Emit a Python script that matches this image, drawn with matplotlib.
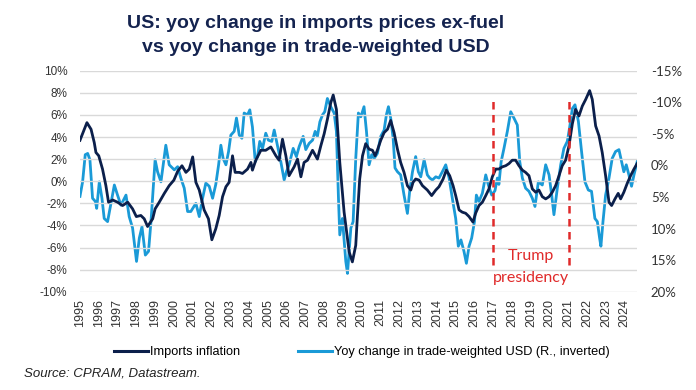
import matplotlib
matplotlib.use("Agg")
import matplotlib.pyplot as plt
from matplotlib.lines import Line2D

# Imports prices ex-fuel, yoy % (left axis)
imp_t = [1995.0, 1995.14, 1995.37, 1995.59, 1995.76, 1995.85, 1996.0, 1996.2, 1996.38, 1996.52,
         1996.74, 1997.0, 1997.27, 1997.54, 1997.8, 1998.0, 1998.24, 1998.42, 1998.6, 1998.87,
         1999.0, 1999.22, 1999.49, 1999.75, 2000.0, 2000.2, 2000.43, 2000.64, 2000.82, 2001.0,
         2001.17, 2001.35, 2001.61, 2001.84, 2002.02, 2002.23, 2002.41, 2002.59, 2002.77, 2002.94,
         2003.12, 2003.26, 2003.48, 2003.65, 2003.92, 2004.1, 2004.18, 2004.36, 2004.63, 2004.89,
         2005.16, 2005.43, 2005.6, 2005.78, 2005.96, 2006.13, 2006.4, 2006.58, 2006.76, 2006.93,
         2007.11, 2007.38, 2007.64, 2007.82, 2008.0, 2008.17, 2008.35, 2008.48, 2008.65, 2008.83,
         2009.06, 2009.33, 2009.5, 2009.68, 2009.77, 2009.89, 2010.04, 2010.21, 2010.39, 2010.57,
         2010.71, 2010.83, 2011.01, 2011.19, 2011.37, 2011.54, 2011.72, 2011.9, 2012.07, 2012.25,
         2012.43, 2012.61, 2012.73, 2012.87, 2013.05, 2013.23, 2013.49, 2013.72, 2013.94, 2014.11,
         2014.33, 2014.5, 2014.68, 2014.86, 2015.0, 2015.18, 2015.35, 2015.53, 2015.71, 2015.92,
         2016.06, 2016.24, 2016.42, 2016.6, 2016.77, 2016.95, 2017.13, 2017.3, 2017.48, 2017.66,
         2017.84, 2018.01, 2018.19, 2018.37, 2018.55, 2018.72, 2018.9, 2019.08, 2019.26, 2019.43,
         2019.61, 2019.79, 2019.97, 2020.14, 2020.32, 2020.5, 2020.67, 2020.85, 2021.03, 2021.21,
         2021.38, 2021.56, 2021.74, 2021.92, 2022.13, 2022.27, 2022.45, 2022.63, 2022.8, 2022.98,
         2023.16, 2023.3, 2023.48, 2023.65, 2023.78, 2023.95, 2024.13, 2024.31, 2024.49, 2024.66]
imp_val = [3.7, 4.3, 5.3, 4.7, 3.5, 2.6, 2.3, 1.1, -0.4, -1.9,
           -1.7, -1.9, -2.2, -1.9, -2.5, -3.2, -3.1, -3.4, -4.1, -3.4,
           -2.5, -1.9, -1.1, -0.4, 0.1, 0.9, 1.4, 0.8, 1.1, 2.2,
           -0.1, -0.8, -2.6, -3.4, -5.3, -4.3, -3.1, -1.4, -0.5, -0.1,
           2.3, 0.8, 0.8, 0.7, 1.1, 1.7, 1.0, 1.9, 2.8, 2.8,
           3.1, 2.3, 1.9, 3.8, 2.3, 0.5, 1.3, 2.0, 0.4, 1.7,
           1.9, 2.8, 2.0, 3.2, 4.3, 5.6, 7.1, 7.8, 6.5, 1.7,
           -2.8, -6.4, -7.3, -5.8, -3.1, 0.2, 2.3, 3.4, 2.9, 2.8,
           2.3, 2.8, 3.7, 4.4, 4.7, 5.5, 4.4, 2.9, 1.7, 0.8,
           -0.4, -0.8, -0.1, 0.2, 0.1, -0.4, -0.8, -1.3, -0.8, -0.5,
           0.2, 1.0, 0.5, -0.4, -1.3, -2.6, -2.8, -2.9, -3.2, -3.7,
           -2.9, -2.2, -1.9, -1.3, -0.7, 0.4, 1.1, 1.1, 1.3, 1.4,
           1.6, 1.9, 1.9, 1.4, 1.0, 0.8, 0.5, -0.7, -1.0, -0.8,
           -1.4, -1.6, -1.4, -1.0, -0.4, 0.5, 1.4, 1.9, 3.2, 5.2,
           6.5, 5.9, 6.8, 7.4, 8.2, 7.4, 5.0, 4.1, 2.6, 0.5,
           -1.9, -2.2, -1.6, -1.1, -1.6, -1.0, -0.2, 0.5, 1.1, 1.6]

# Trade-weighted USD, yoy % (right axis, inverted)
usd_t = [1995.0, 1995.14, 1995.28, 1995.41, 1995.53, 1995.67, 1995.82, 1995.89, 1996.03, 1996.17,
         1996.29, 1996.47, 1996.65, 1996.83, 1997.0, 1997.18, 1997.45, 1997.62, 1997.8, 1998.01,
         1998.16, 1998.3, 1998.48, 1998.65, 1998.78, 1999.0, 1999.13, 1999.31, 1999.57, 1999.75,
         2000.02, 2000.2, 2000.37, 2000.55, 2000.73, 2000.9, 2001.17, 2001.35, 2001.49, 2001.7,
         2001.88, 2002.06, 2002.23, 2002.38, 2002.5, 2002.62, 2002.77, 2002.91, 2003.03, 2003.21,
         2003.33, 2003.48, 2003.62, 2003.74, 2003.92, 2004.04, 2004.18, 2004.33, 2004.45, 2004.57,
         2004.72, 2004.89, 2005.03, 2005.21, 2005.34, 2005.51, 2005.69, 2005.87, 2005.99, 2006.13,
         2006.35, 2006.52, 2006.67, 2006.88, 2007.02, 2007.2, 2007.38, 2007.52, 2007.64, 2007.77,
         2007.91, 2008.03, 2008.17, 2008.35, 2008.53, 2008.65, 2008.76, 2008.83, 2008.97, 2009.15,
         2009.24, 2009.33, 2009.42, 2009.54, 2009.68, 2009.82, 2009.95, 2010.12, 2010.25, 2010.39,
         2010.53, 2010.66, 2010.83, 2011.01, 2011.19, 2011.31, 2011.42, 2011.54, 2011.67, 2011.77,
         2011.9, 2012.07, 2012.25, 2012.43, 2012.55, 2012.7, 2012.87, 2013.01, 2013.14, 2013.32,
         2013.49, 2013.62, 2013.76, 2013.94, 2014.11, 2014.29, 2014.47, 2014.65, 2014.82, 2015.0,
         2015.14, 2015.28, 2015.44, 2015.57, 2015.71, 2015.85, 2016.0, 2016.1, 2016.24, 2016.42,
         2016.6, 2016.74, 2016.92, 2017.09, 2017.22, 2017.3, 2017.42, 2017.57, 2017.75, 2017.93,
         2018.1, 2018.28, 2018.41, 2018.55, 2018.72, 2018.9, 2019.08, 2019.22, 2019.4, 2019.61,
         2019.79, 2019.97, 2020.11, 2020.23, 2020.41, 2020.59, 2020.76, 2020.94, 2021.06, 2021.21,
         2021.35, 2021.53, 2021.7, 2021.88, 2022.06, 2022.23, 2022.41, 2022.54, 2022.66, 2022.73,
         2022.84, 2022.98, 2023.16, 2023.33, 2023.51, 2023.69, 2023.83, 2023.95, 2024.08, 2024.22,
         2024.36, 2024.49, 2024.66]
usd_val = [4.9, 2.6, -1.7, -1.9, -0.9, 5.2, 5.7, 6.8, 2.6, 5.2,
           8.4, 8.9, 6.0, 3.1, 4.7, 6.3, 4.7, 8.1, 9.9, 15.2,
           11.5, 9.7, 14.2, 13.6, 8.9, -0.9, 1.0, 2.6, -3.2, -0.1,
           0.7, 0.2, 2.0, 3.6, 7.3, 7.3, 6.0, 8.1, 5.7, 2.8,
           3.3, 5.2, 3.0, -0.1, -3.2, -1.1, -0.1, -2.2, -4.8, -5.4,
           -7.5, -4.8, -4.3, -8.3, -8.0, -8.8, -6.1, -0.6, -1.4, -3.8,
           -2.7, -5.1, -4.0, -3.8, -5.6, -3.2, -0.6, 2.3, 1.0, -0.1,
           -2.7, -1.4, -3.0, -4.6, -2.5, -3.5, -4.0, -5.4, -4.6, -6.9,
           -8.0, -8.5, -10.6, -9.3, -8.3, -5.4, 5.2, 11.0, 8.4, 15.2,
           17.1, 13.6, 9.9, 8.9, -1.1, -8.3, -7.7, -9.3, -5.4, -0.1,
           -1.7, -1.1, -1.9, -4.6, -5.6, -8.0, -9.3, -7.5, -4.3, 0.4,
           1.0, 1.5, 4.7, 7.6, 4.1, 1.0, -1.4, 1.0, 1.8, -0.9,
           1.5, 2.0, 2.3, 1.8, 2.0, 1.0, -0.1, 2.0, 5.2, 8.4,
           12.8, 11.8, 13.6, 15.5, 12.8, 11.5, 8.9, 4.7, 5.7, 4.4,
           1.5, 3.1, 4.7, 4.0, 2.0, 3.0, -0.6, -2.7, -5.4, -8.5,
           -7.5, -6.4, -0.6, 2.0, 3.6, 4.1, 5.2, 6.5, 2.6, 3.1,
           -0.1, 1.5, 4.7, 7.8, 3.6, -0.1, -2.7, -3.8, -5.9, -9.0,
           -9.6, -7.0, -2.2, 2.6, 3.9, 4.1, 8.4, 8.9, 11.5, 12.8,
           8.9, 4.7, 2.0, -1.1, -2.2, -2.5, -0.6, 1.0, -0.1, 1.5,
           3.3, 1.5, -0.6]

years = list(range(1995, 2025))
left_ticks = [-10, -8, -6, -4, -2, 0, 2, 4, 6, 8, 10]
right_ticks = [-15, -10, -5, 0, 5, 10, 15, 20]
trump_start = 2017.0
trump_end = 2021.05

navy = "#0b1f4b"
sky = "#1a9ad7"
red = "#e02a2a"
txt = "#333333"

fig = plt.figure(figsize=(6.96, 3.9), dpi=100)
ax = fig.add_axes([0.1149, 0.252, 0.8003, 0.5667])
ax2 = ax.twinx()

ax.plot(imp_t, imp_val, color=navy, lw=2.0, zorder=3)
ax2.plot(usd_t, usd_val, color=sky, lw=2.0, zorder=2)
ax.set_zorder(ax2.get_zorder() + 1)
ax.patch.set_visible(False)

ax.set_xlim(1995, 2024.65)
ax.set_ylim(-10, 10)
ax2.set_ylim(20, -15)

ax.set_yticks(left_ticks)
ax.set_yticklabels([f"{v}%" for v in left_ticks], fontsize=8.5, color=txt, family="Liberation Sans")
ax2.set_yticks(right_ticks)
ax2.set_yticklabels([f"{v}%" for v in right_ticks], fontsize=9.5, color=txt, family="Lato")
ax.set_xticks(years)
ax.set_xticklabels([str(y) for y in years], rotation=90, fontsize=9, color=txt,
                   family="Liberation Sans")

ax.tick_params(axis="y", length=0, pad=9)
ax2.tick_params(axis="y", length=0, pad=10)
ax.tick_params(axis="x", length=0, pad=5)
ax.grid(axis="y", color="#d9d9d9", lw=1)
for a in (ax, ax2):
    for s in a.spines.values():
        s.set_visible(False)

# Trump presidency markers
for xv in (trump_start, trump_end):
    ax.axvline(xv, ymin=0.12, ymax=0.88, color=red, lw=1.8, ls=(0, (3, 2.2)), zorder=4)
mid = (trump_start + trump_end) / 2
ax.text(mid, -6.8, "Trump", ha="center", va="center", color=red, fontsize=11.5, family="Lato")
ax.text(mid, -8.8, "presidency", ha="center", va="center", color=red, fontsize=11.5, family="Lato")

fig.text(0.454, 0.94, "US: yoy change in imports prices ex-fuel", ha="center", va="center",
         fontsize=14, fontweight="bold", color="#14234f", family="Liberation Sans")
fig.text(0.454, 0.877, "vs yoy change in trade-weighted USD", ha="center", va="center",
         fontsize=14, fontweight="bold", color="#14234f", family="Liberation Sans")

handles = [Line2D([], [], color=navy, lw=2.2), Line2D([], [], color=sky, lw=2.2)]
labels = ["Imports inflation", "Yoy change in trade-weighted USD (R., inverted)"]
fig.legend(handles, labels, loc="center", bbox_to_anchor=(0.52, 0.097), ncol=2, frameon=False,
           handlelength=2.7, handletextpad=0.15, columnspacing=4.5,
           prop={"family": "Liberation Sans", "size": 9.2})

fig.text(0.035, 0.043, "Source: CPRAM, Datastream.", ha="left", va="center", fontsize=9.5,
         style="italic", color="#222222", family="Liberation Sans")

fig.savefig("out.png", dpi=100)
